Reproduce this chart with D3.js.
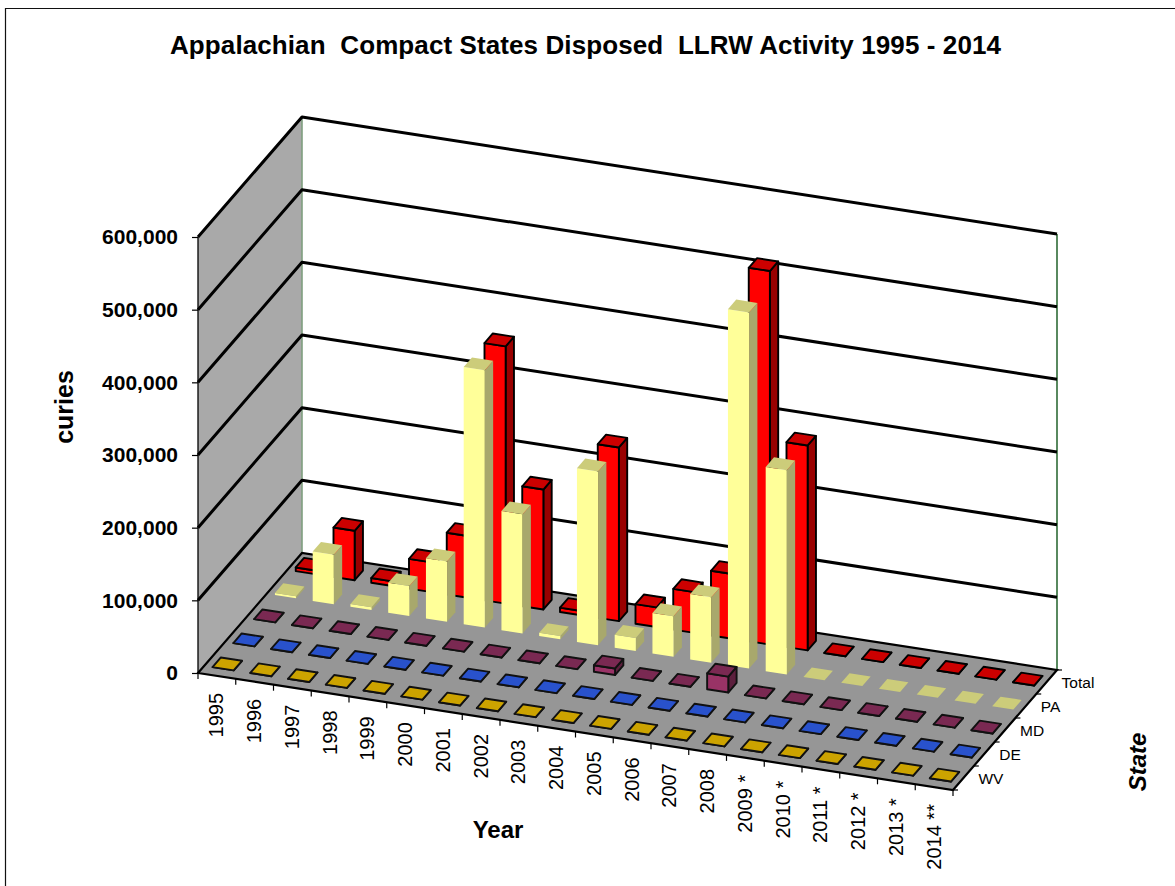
<!DOCTYPE html>
<html><head><meta charset="utf-8">
<script src="https://cdn.jsdelivr.net/npm/d3@7"></script>
<style>html,body{margin:0;padding:0;background:#fff}svg{display:block}text{font-family:"Liberation Sans",Arial,sans-serif;fill:#000}</style>
</head><body><div id="c"></div>
<script>
const years = ["1995","1996","1997","1998","1999","2000","2001","2002","2003","2004","2005","2006","2007","2008","2009 *","2010 *","2011 *","2012 *","2013 *","2014 **"];
const seriesNames = ["WV","DE","MD","PA","Total"];
const wv = [0,0,0,0,0,0,0,0,0,0,0,0,0,0,0,0,0,0,0,0];
const de = [0,0,0,0,0,0,0,0,0,0,0,0,0,0,0,0,0,0,0,0];
const md = [0,0,0,0,0,0,0,0,0,9000,0,0,22000,0,0,0,0,0,0,0];
const pa = [3000,68000,4000,41000,83000,354000,164000,4500,239000,18000,56000,90000,490000,281000,0,0,0,0,0,0];
const total = [5000,68000,6500,41000,85000,354000,165000,6000,239000,27000,56000,89000,514000,282000,0,0,0,0,0,0];
const valueTicks = [0,100000,200000,300000,400000,500000,600000];
const seriesValues = [wv,de,md,pa,total];
const palette = {
  WV:   {front:"#ffcc00",top:"#cca300",side:"#997a00",stroke:"#111"},
  DE:   {front:"#3366ff",top:"#2952cc",side:"#1f3d99",stroke:"#111"},
  MD:   {front:"#993366",top:"#7a2952",side:"#5c1f3d",stroke:"#111"},
  PA:   {front:"#ffff99",top:"#cccc7a",side:"#a8a86c",stroke:"none"},
  Total:{front:"#ff0000",top:"#cc0000",side:"#990000",stroke:"#000"}
};

const W=1175,H=886;
const svg=d3.select("#c").append("svg").attr("width",W).attr("height",H);
svg.append("path").attr("d",`M5.5,${H}V8.5H${W}`).attr("fill","none").attr("stroke","#111").attr("stroke-width",1.2);

// oblique projection
const ox=198, oy=673;
const frontDX=755, frontDY=117, depthDX=104, depthDY=-120;
const y=d3.scaleLinear().domain([0,600000]).range([oy,oy-436]);
const xs=d3.scaleBand().domain(years).range([0,1]);
const zs=d3.scaleBand().domain(seriesNames).range([0,1]);
const P=(u,v,val=0)=>[ox+u*frontDX+v*depthDX, y(val)+u*frontDY+v*depthDY];
const line=pts=>"M"+pts.map(p=>p.join(",")).join("L");
const poly=pts=>line(pts)+"Z";

// walls and floor
const g=svg.append("g");
const vMax=valueTicks[valueTicks.length-1];
g.append("path").attr("d",poly([P(0,0),P(0,1),P(0,1,vMax),P(0,0,vMax)])).attr("fill","#a9a9a9");
g.append("path").attr("d",poly([P(0,0),P(1,0),P(1,1),P(0,1)])).attr("fill","#969696");
g.append("path").attr("d",line([P(0,1),P(0,1,vMax)])).attr("stroke","#7f9f7f").attr("stroke-width",1.6).attr("fill","none");
g.append("path").attr("d",line([P(1,1),P(1,1,vMax)])).attr("stroke","#2f6b36").attr("stroke-width",1.6).attr("fill","none");

g.selectAll("path.grid").data(valueTicks.filter(d=>d>0)).join("path").attr("class","grid")
 .attr("d",d=>line([P(0,0,d),P(0,1,d),P(1,1,d)])).attr("fill","none").attr("stroke","#000").attr("stroke-width",3).attr("stroke-linejoin","round");

// floor edges
g.append("path").attr("d",poly([P(0,0),P(1,0),P(1,1),P(0,1)])).attr("fill","none").attr("stroke","#000").attr("stroke-width",2.2);
g.append("path").attr("d",line([P(0,0),P(0,0,vMax)])).attr("fill","none").attr("stroke","#000").attr("stroke-width",1.3);

// value axis
const axis=svg.append("g").attr("transform",`translate(${ox},0)`).call(d3.axisLeft(y).tickValues(valueTicks).tickFormat(d3.format(",")).tickSize(6).tickPadding(14));
axis.select(".domain").remove();
axis.selectAll("line").attr("stroke","#000").attr("stroke-width",1.2);
axis.selectAll("text").attr("font-size",21).attr("font-weight","bold");

// year ticks and labels
const step=xs.bandwidth(), depthStep=zs.bandwidth();
svg.append("g").selectAll("path").data(d3.range(years.length+1)).join("path")
 .attr("d",i=>{const p=P(i*step,0);return line([p,[p[0],p[1]+6]]);}).attr("stroke","#000").attr("stroke-width",1.2);
svg.append("g").selectAll("path").data(d3.range(seriesNames.length+1)).join("path")
 .attr("d",i=>{const p=P(1,i*depthStep);return line([p,[p[0]+5,p[1]]]);}).attr("stroke","#000").attr("stroke-width",1.2);
svg.append("g").selectAll("text").data(years).join("text")
 .attr("transform",d=>{const p=P(xs(d)+step/2,0);return `translate(${p[0]+6.5},${p[1]+17}) rotate(-90)`;})
 .attr("text-anchor","end").attr("font-size",20).attr("fill","#111").text(d=>d);
svg.append("g").selectAll("text").data(seriesNames).join("text")
 .attr("x",d=>P(1,zs(d)+depthStep/2)[0]+15).attr("y",d=>P(1,zs(d)+depthStep/2)[1]+1)
 .attr("dy","0.35em").attr("font-size",15.5).text(d=>d);

// bars, back to front
const wBar=0.56, dBar=0.40;
const bars=[];
[...seriesNames].reverse().forEach(name=>{
  const vals=seriesValues[seriesNames.indexOf(name)];
  years.forEach((yr,i)=>bars.push({name,yr,val:vals[i]}));
});
const bar=svg.append("g").selectAll("g").data(bars).join("g");
function corners(d){
  const u0=xs(d.yr)+step*(1-wBar)/2, u1=u0+step*wBar;
  const v0=zs(d.name)+depthStep*(1-dBar)/2, v1=v0+depthStep*dBar;
  return {u0,u1,v0,v1};
}
const style=(sel,face)=>sel.attr("fill",d=>palette[d.name][face]).attr("stroke",d=>palette[d.name].stroke)
  .attr("stroke-width",1.9).attr("stroke-linejoin","round");
bar.append("path").call(style,"side").attr("d",d=>{const c=corners(d);return poly([P(c.u1,c.v0),P(c.u1,c.v1),P(c.u1,c.v1,d.val),P(c.u1,c.v0,d.val)]);});
bar.append("path").call(style,"front").attr("d",d=>{const c=corners(d);return poly([P(c.u0,c.v0),P(c.u1,c.v0),P(c.u1,c.v0,d.val),P(c.u0,c.v0,d.val)]);});
bar.append("path").call(style,"top").attr("d",d=>{const c=corners(d);return poly([P(c.u0,c.v0,d.val),P(c.u1,c.v0,d.val),P(c.u1,c.v1,d.val),P(c.u0,c.v1,d.val)]);});

// titles
svg.append("text").attr("x",170).attr("y",54).attr("font-size",26).attr("font-weight","bold").attr("textLength",831).attr("lengthAdjust","spacing").style("white-space","pre").text("Appalachian  Compact States Disposed  LLRW Activity 1995 - 2014");
svg.append("text").attr("transform","translate(73,407) rotate(-90)").attr("text-anchor","middle").attr("font-size",25).attr("font-weight","bold").text("curies");
svg.append("text").attr("x",498).attr("y",838).attr("text-anchor","middle").attr("font-size",24).attr("font-weight","bold").text("Year");
svg.append("text").attr("transform","translate(1146,762) rotate(-90)").attr("text-anchor","middle").attr("font-size",24).attr("font-weight","bold").attr("font-style","italic").text("State");
</script></body></html>
